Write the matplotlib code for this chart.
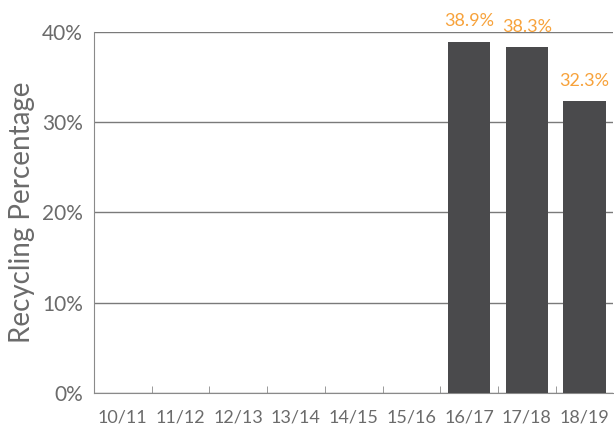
import numpy as np
import matplotlib
matplotlib.use("Agg")
import matplotlib.pyplot as plt

years = ["10/11", "11/12", "12/13", "13/14", "14/15", "15/16", "16/17", "17/18", "18/19"]
recycling = [np.nan, np.nan, np.nan, np.nan, np.nan, np.nan, 38.9, 38.3, 32.3]
yticks = [0, 10, 20, 30, 40]

TEXT = "#6b6b6b"
BAR = "#4a4a4c"
LABEL = "#f7a23b"

plt.rcParams["font.family"] = ["Lato", "DejaVu Sans"]

fig = plt.figure(figsize=(6.14, 4.34), dpi=100)
ax = fig.add_axes([0.153, 0.0945, 0.846, 0.832])

x = np.arange(len(years))
ax.bar(x, recycling, width=0.73, color=BAR, zorder=3)

for xi, v in zip(x, recycling):
    if np.isnan(v):
        continue
    ax.annotate(f"{v:.1f}%", (xi, v), xytext=(0, 9), textcoords="offset points",
                ha="center", va="bottom", color=LABEL, fontsize=13)

ax.set_xlim(-0.5, len(years) - 0.5)
ax.set_ylim(0, 40)
ax.set_yticks(yticks)
ax.set_yticklabels([f"{t}%" for t in yticks])
ax.set_xticks(x)
ax.set_xticklabels(years)
ax.set_xticks(x[:-1] + 0.5, minor=True)

ax.yaxis.grid(True, color="#7a7a7a", linewidth=1.0, zorder=0)
ax.set_axisbelow(True)
for s in ["top", "right"]:
    ax.spines[s].set_visible(False)
ax.spines["left"].set_color("#8a8a8a")
ax.spines["bottom"].set_color("#8a8a8a")

ax.tick_params(axis="y", length=0, pad=8, labelsize=15, labelcolor=TEXT)
ax.tick_params(axis="x", which="major", length=0, pad=12, labelsize=13, labelcolor=TEXT)
ax.tick_params(axis="x", which="minor", direction="in", length=5, color="#8a8a8a")

ax.set_ylabel("Recycling Percentage", fontsize=20, color=TEXT, labelpad=5)

fig.savefig("out.png", dpi=100)
